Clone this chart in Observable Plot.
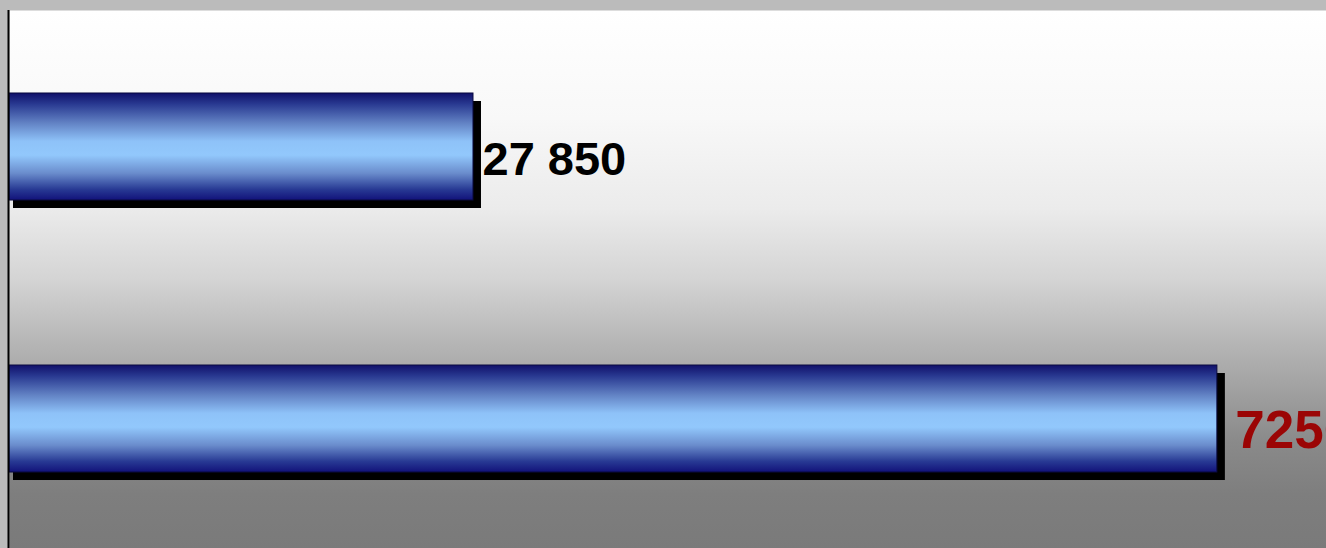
<!DOCTYPE html>
<html>
<head>
<meta charset="utf-8">
<script src="https://cdn.jsdelivr.net/npm/d3@7"></script>
<script src="https://cdn.jsdelivr.net/npm/@observablehq/plot@0.6"></script>
<style>
  html, body { margin: 0; padding: 0; background: #bbbbbb; overflow: hidden; }
  #chart svg { display: block; }
</style>
</head>
<body>
<div id="chart"></div>
<script>
const categories = ["A", "B"];
const values = [27850, 72500];
const labels = ["27 850", "72500"];

const data = categories.map((c, i) => ({category: c, value: values[i], label: labels[i]}));

const plot = Plot.plot({
  width: 1326,
  height: 548,
  marginTop: 10,
  marginBottom: 0,
  marginLeft: 9,
  marginRight: 0,
  style: {background: "#bbbbbb", fontFamily: "'Liberation Sans', Arial, sans-serif"},
  x: {domain: [0, 79050], axis: null},
  y: {type: "band", domain: categories, range: [10, 555], paddingInner: 0.6066, paddingOuter: 0.3051, round: false, axis: null},
  marks: [
    Plot.frame({fill: "url(#bgGrad)", stroke: "none"}),
    Plot.barX(data, {x: "value", y: "category", fill: "#000", dx: 8, dy: 8, insetLeft: -4}),
    Plot.barX(data, {x: "value", y: "category", fill: "url(#barGrad)", stroke: "#0a0a40", strokeWidth: 1}),
    Plot.text(data.filter((d, i) => i === 0), {x: "value", y: "category", text: "label", textAnchor: "start", dx: 9, dy: 13, fontSize: 47, fontWeight: "bold", fill: "#000"}),
    Plot.text(data.filter((d, i) => i === 1), {x: "value", y: "category", text: "label", textAnchor: "start", dx: 18, dy: 12, fontSize: 53, fontWeight: "bold", fill: "#9b0505"}),
    Plot.ruleX([0], {stroke: "#000", strokeWidth: 2, dx: -1})
  ]
});

const svg = d3.select(plot);
const defs = svg.insert("defs", ":first-child");
const bg = defs.append("linearGradient").attr("id", "bgGrad").attr("x1", 0).attr("y1", 0).attr("x2", 0).attr("y2", 1);
[[0, "#ffffff"], [0.2, "#f8f8f8"], [0.37, "#ebebeb"], [0.5, "#d4d4d4"], [0.62, "#b5b5b5"], [0.7, "#a2a2a2"], [0.8, "#8a8a8a"], [0.9, "#7e7e7e"], [1, "#7a7a7a"]]
  .forEach(([o, c]) => bg.append("stop").attr("offset", o).attr("stop-color", c));
const bar = defs.append("linearGradient").attr("id", "barGrad").attr("x1", 0).attr("y1", 0).attr("x2", 0).attr("y2", 1);
[[0, "#10106a"], [0.1, "#283890"], [0.28, "#6282c4"], [0.45, "#8ec2f8"], [0.58, "#92c8fc"], [0.75, "#6a8ccc"], [0.9, "#283a94"], [1, "#12127a"]]
  .forEach(([o, c]) => bar.append("stop").attr("offset", o).attr("stop-color", c));

document.getElementById("chart").appendChild(plot);
</script>
</body>
</html>
